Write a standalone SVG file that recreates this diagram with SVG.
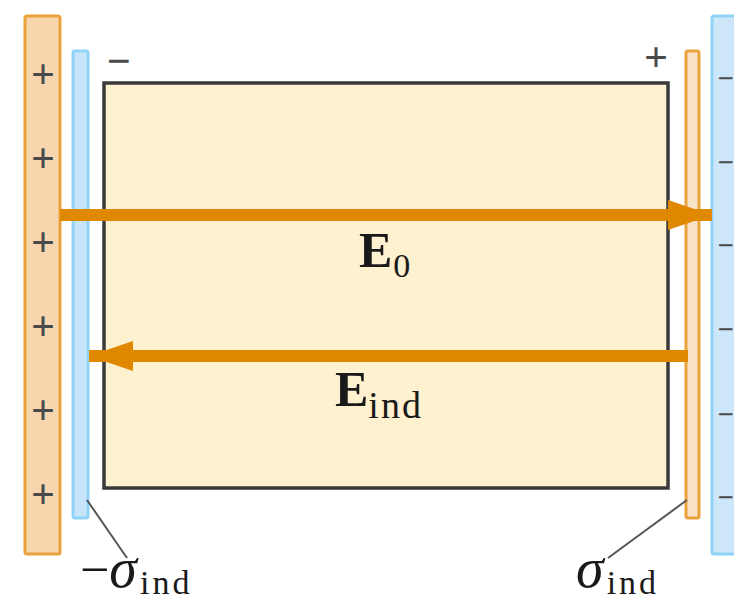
<svg xmlns="http://www.w3.org/2000/svg" width="734" height="601" viewBox="0 0 734 601">
<defs>
<style>
.sign{font-family:"Liberation Serif","DejaVu Serif",serif;font-size:42px;font-weight:bold;fill:#4a4a4a;text-anchor:middle}
.rsign{font-family:"Liberation Serif","DejaVu Serif",serif;font-size:29px;font-weight:bold;fill:#4a4a4a;text-anchor:end}
.lbl{font-family:"Liberation Serif","DejaVu Serif",serif;fill:#1a1a1a}
.bold{font-weight:bold}
.leader{stroke:#555;stroke-width:2;fill:none}
.field{stroke:#df8800;stroke-width:12;fill:none}
</style>
<marker id="ah" markerUnits="userSpaceOnUse" markerWidth="46" markerHeight="30" refX="44" refY="15" orient="auto">
<path d="M0,0 L44,15 L0,30 Z" fill="#df8800"/>
</marker>
</defs>
<rect width="734" height="601" fill="#fff"/>

<g id="left-plate">
<rect x="25" y="16" width="35" height="538" rx="2" fill="#f7d6ae" stroke="#e9a23c" stroke-width="3"/>
<text class="sign" x="43" y="88">+</text>
<text class="sign" x="43" y="172">+</text>
<text class="sign" x="43" y="256">+</text>
<text class="sign" x="43" y="340">+</text>
<text class="sign" x="43" y="424">+</text>
<text class="sign" x="43" y="508">+</text>
</g>

<g id="right-plate">
<rect x="712" y="16" width="40" height="538" rx="2" fill="#cde6f9" stroke="#8fd3f7" stroke-width="3"/>
<text class="rsign" x="734" y="88">−</text>
<text class="rsign" x="734" y="172">−</text>
<text class="rsign" x="734" y="255">−</text>
<text class="rsign" x="734" y="339">−</text>
<text class="rsign" x="734" y="424">−</text>
<text class="rsign" x="734" y="507">−</text>
</g>

<g id="dielectric">
<rect x="104" y="83" width="564" height="405" fill="#fdf1cf" stroke="#3a3a3a" stroke-width="3.5"/>
<text class="sign" x="119" y="75">−</text>
<text class="sign" x="656" y="71">+</text>
</g>

<g id="neg-induced">
<rect x="73" y="51" width="15" height="467" rx="2" fill="#c6e5fa" stroke="#8fd3f7" stroke-width="3"/>
</g>

<g id="pos-induced">
<rect x="686" y="51" width="13" height="467" rx="2" fill="#f9e3c6" stroke="#e9a23c" stroke-width="3"/>
</g>

<g id="connectors">
<line class="field" x1="60" y1="215" x2="712" y2="215" marker-end="url(#ah)"/>
<line class="field" x1="688" y1="356" x2="89" y2="356" marker-end="url(#ah)"/>
<line class="leader" x1="87" y1="500" x2="127" y2="558"/>
<line class="leader" x1="687" y1="500" x2="608" y2="558"/>
</g>

<g id="label-E0">
<text class="lbl bold" x="359" y="267" font-size="50">E<tspan font-weight="normal" font-size="34" dy="10" dx="1">0</tspan></text>
</g>
<g id="label-Eind">
<text class="lbl bold" x="335" y="406" font-size="50">E<tspan font-weight="normal" font-size="38" dy="12" letter-spacing="2">ind</tspan></text>
</g>
<g id="label-neg-sigma">
<text class="lbl" x="80" y="587" font-size="52">−<tspan font-style="italic" font-size="56">σ</tspan><tspan font-size="34" dy="7" dx="3" letter-spacing="3">ind</tspan></text>
</g>
<g id="label-pos-sigma">
<text class="lbl" x="576" y="587" font-size="52"><tspan font-style="italic" font-size="56">σ</tspan><tspan font-size="34" dy="7" dx="3" letter-spacing="3">ind</tspan></text>
</g>
</svg>
